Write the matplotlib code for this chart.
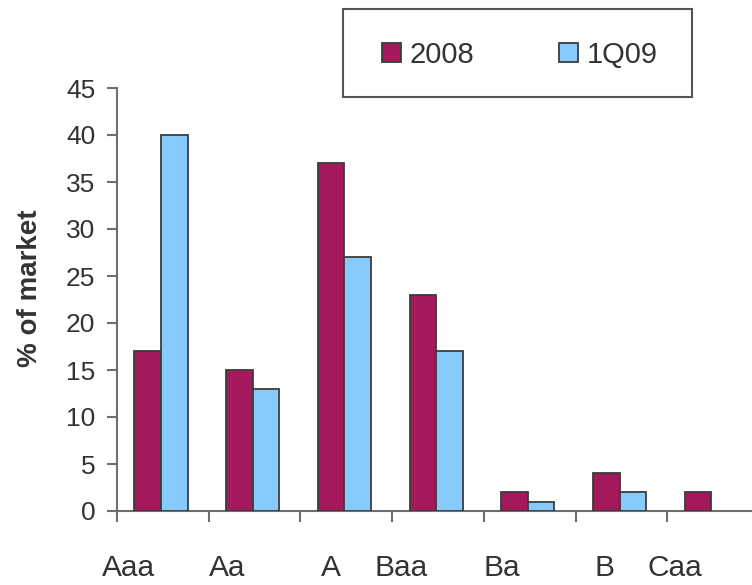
import matplotlib
matplotlib.use("Agg")
import matplotlib.pyplot as plt
from matplotlib.patches import Rectangle
import numpy as np

plt.rcParams['font.family'] = ['Liberation Sans', 'DejaVu Sans']

# Rating categories and market shares (% of market)
ratings = ["Aaa", "Aa", "A", "Baa", "Ba", "B", "Caa"]
share_2008 = [17, 15, 37, 23, 2, 4, 2]
share_1q09 = [40, 13, 27, 17, 1, 2, 0]
series_names = ["2008", "1Q09"]
yticks = [0, 5, 10, 15, 20, 25, 30, 35, 40, 45]

# Where the rating labels sit along the axis (in category units)
label_pos = [0.12, 1.2, 2.33, 3.1, 4.2, 5.32, 6.08]

c_2008 = "#A3195B"
c_1q09 = "#86CBFB"
edge = "#3c3c3c"
axis_grey = "#6e6e6e"
text_grey = "#333333"

W, H = 752, 585
fig = plt.figure(figsize=(W / 100, H / 100), dpi=100)
ax = fig.add_axes([117 / W, 1 - 511 / H, 642 / W, 423 / H])

x = np.arange(len(ratings))
bw = 0.29
b1 = ax.bar(x + 0.335, share_2008, width=bw, color=c_2008, edgecolor=edge,
            linewidth=1.3, label=series_names[0], zorder=3)
b2 = ax.bar(x + 0.625, share_1q09, width=bw, color=c_1q09, edgecolor=edge,
            linewidth=1.3, label=series_names[1], zorder=3)
# a zero-height bar has no visible body
for rect, v in zip(b2, share_1q09):
    if v == 0:
        rect.set_visible(False)

ax.set_xlim(0, len(ratings))
ax.set_ylim(0, 45)
ax.set_yticks(yticks)
ax.set_yticklabels([str(t) for t in yticks])

# category boundary ticks, labels as separate minor ticks
ax.set_xticks(np.arange(len(ratings)))
ax.set_xticklabels([])
ax.set_xticks(label_pos, minor=True)
ax.set_xticklabels(ratings, minor=True)

for side in ("top", "right"):
    ax.spines[side].set_visible(False)
for side in ("left", "bottom"):
    ax.spines[side].set_color(axis_grey)
    ax.spines[side].set_linewidth(1.5)

ax.tick_params(axis="y", which="major", direction="out", length=7.5, width=1.5,
               color=axis_grey, labelsize=19, labelcolor=text_grey, pad=8)
ax.tick_params(axis="x", which="major", direction="out", length=8, width=1.5,
               color=axis_grey)
ax.tick_params(axis="x", which="minor", length=0, labelsize=21.5,
               labelcolor=text_grey, pad=31)

fig.text(30 / W, 1 - 288 / H, "% of market", rotation=90, ha="center",
         va="center", fontsize=20, fontweight="bold", color=text_grey)

# legend with its own box
fig.patches.append(Rectangle((343 / W, 1 - 97 / H), 349 / W, 88 / H,
                             transform=fig.transFigure, fill=False,
                             edgecolor="#555555", linewidth=1.5))
fig.legend(handles=[b1, b2], loc="center", bbox_to_anchor=(520 / W, 1 - 55 / H),
           ncol=2, frameon=False, fontsize=21, handlelength=0.65,
           handleheight=0.65, handletextpad=0.3, columnspacing=2.9,
           labelcolor=text_grey)

fig.savefig("out.png", dpi=100)
